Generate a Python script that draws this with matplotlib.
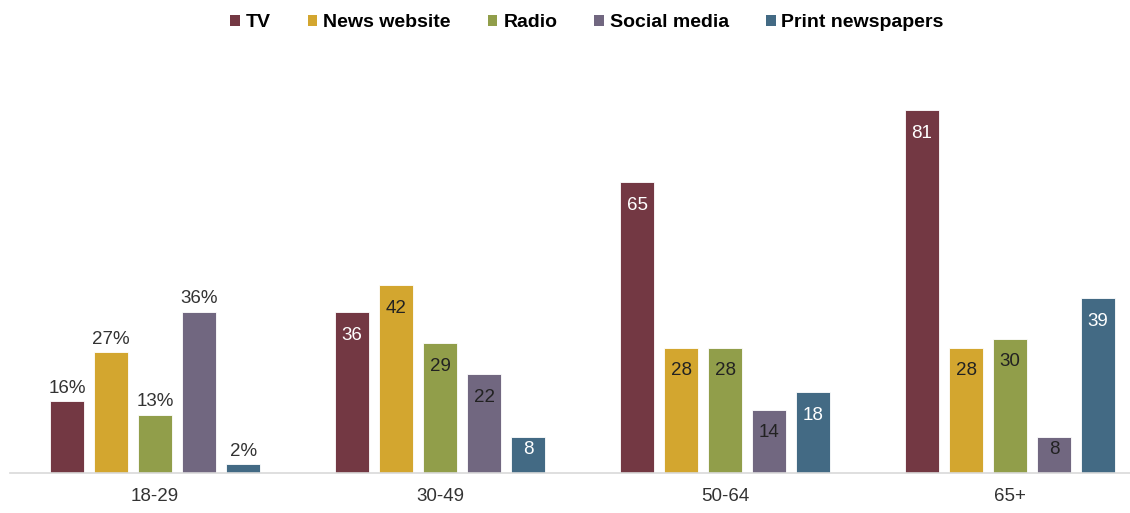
import matplotlib
matplotlib.use("Agg")
import matplotlib.pyplot as plt
from matplotlib.patches import Patch

groups = ["18-29", "30-49", "50-64", "65+"]
series = ["TV", "News website", "Radio", "Social media", "Print newspapers"]
tv = [16, 36, 65, 81]
news = [27, 42, 28, 28]
radio = [13, 29, 28, 30]
social = [36, 22, 14, 8]
printp = [2, 8, 18, 39]
colors = ["#733843", "#D3A62F", "#919E4A", "#716780", "#436A84"]
label_colors = ["white", "#222222", "#222222", "#222222", "white"]

fig = plt.figure(figsize=(11.3, 5.13), dpi=100)
ax = fig.add_axes([10/1130, 40/513, 1120/1130, (473-70)/513])
data = [tv, news, radio, social, printp]
pitch = 0.1544
width = 0.119
for si, vals in enumerate(data):
    xs = [g + (si - 2) * pitch for g in range(len(groups))]
    ax.bar(xs, vals, width=width, color=colors[si], edgecolor="white", linewidth=0.6)
    for gi, (x, v) in enumerate(zip(xs, vals)):
        if gi == 0:
            ax.text(x, v + 1.0, f"{v}%", ha="center", va="bottom", fontsize=13.5,
                    color="#333333", family="Liberation Sans")
        else:
            off = min(5.2, v * 0.35)
            ax.text(x, v - off, f"{v}", ha="center", va="center", fontsize=13.5,
                    color=label_colors[si], family="Liberation Sans")

ax.set_xlim(-0.509, 3.421)
ax.set_ylim(0, 90)
ax.set_xticks(range(len(groups)))
ax.set_xticklabels(groups, fontsize=13.5, color="#333333", family="Liberation Sans")
ax.tick_params(axis="x", length=0, pad=11)
ax.set_yticks([])
for s in ["top", "right", "left"]:
    ax.spines[s].set_visible(False)
ax.spines["bottom"].set_color("#d9d9d9")
ax.spines["bottom"].set_linewidth(1.2)

handles = [Patch(facecolor=c, edgecolor="none") for c in colors]
fig.legend(handles, series, loc="center", bbox_to_anchor=(587/1130, 1 - 23/513), ncol=5,
           frameon=False, handlelength=0.5, handleheight=0.55, handletextpad=0.3,
           columnspacing=1.9, prop={"family": "Liberation Sans", "weight": "bold", "size": 14})

fig.savefig("out.png", dpi=100)
